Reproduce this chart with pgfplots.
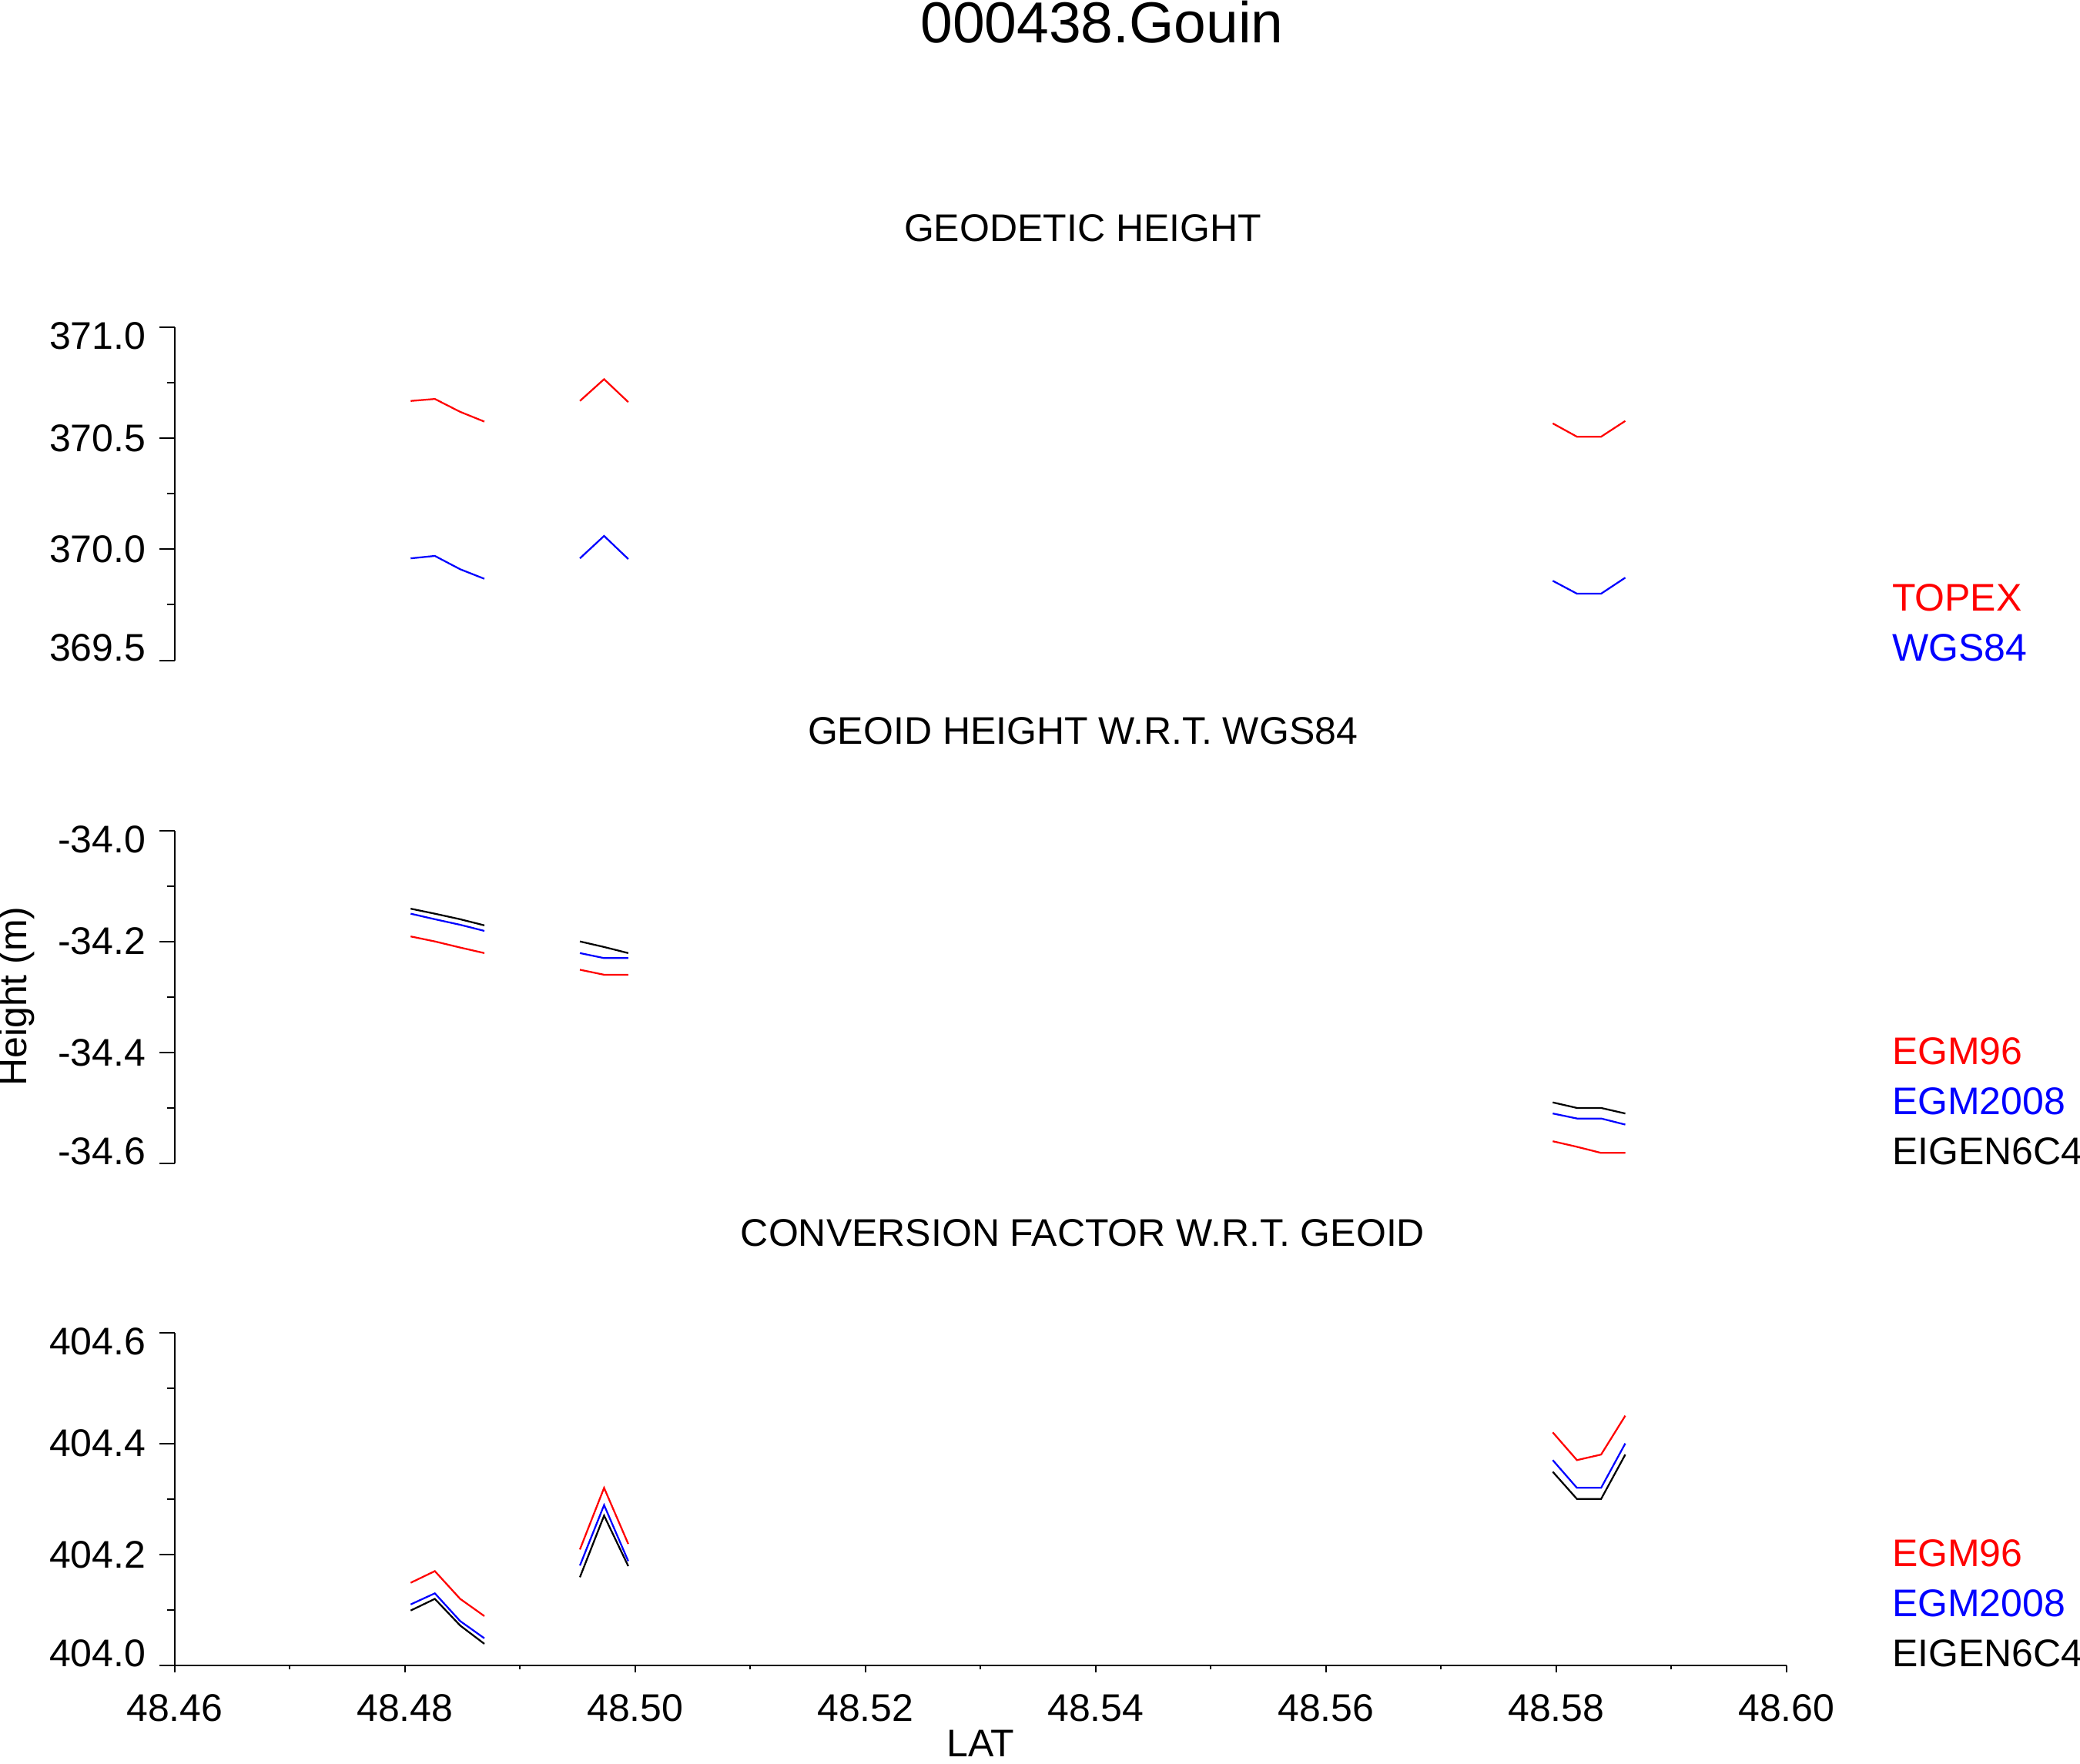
\documentclass[border=0pt]{standalone}
\usepackage{fontspec}
\setmainfont{Liberation Sans}
\usepackage{pgfplots}
\pgfplotsset{compat=1.18}
\newcommand\dn[1]{\raisebox{-2.3pt}[\height][\depth]{#1}}
\newcommand\up[1]{\raisebox{3.2pt}[\height][\depth]{#1}}
\tikzset{leg/.style={anchor=base west, inner sep=0pt, font=\fontsize{10}{12}\selectfont}}
\pgfplotsset{
 panel/.style={
  scale only axis, width=418.6pt, height=86.5pt,
  xmin=48.46, xmax=48.60,
  axis y line*=left,
  axis line style={-, line width=0.4pt, black},
  tick align=outside,
  major tick length=4pt, minor tick length=2pt,
  minor y tick num=1,
  tick style={line width=0.4pt, black},
  ticklabel style={font=\fontsize{10}{12}\selectfont},
  /pgf/number format/assume math mode=true,
  every axis plot/.append style={line width=0.45pt, mark=none},
  unbounded coords=jump,
  clip=false,
  title style={at={(axis description cs:0.5634,1)}, anchor=base, yshift=16.4pt, font=\fontsize{10}{12}\selectfont},
 },
 toppanel/.style={panel, axis x line=none, xtick=\empty},
}
\begin{document}
\begin{tikzpicture}
\path[use as bounding box] (0,0) rectangle (540.2pt,-458pt);
\node[anchor=base, inner sep=0pt, font=\fontsize{15}{18}\selectfont] at (286.2pt,-11pt) {000438.Gouin};
\node[rotate=90, anchor=base, inner sep=0pt, font=\fontsize{10}{12}\selectfont] at (6.8pt,-258.8pt) {Height (m)};

% Panel 1
\begin{axis}[toppanel, at={(45.36pt,-85pt)}, anchor=north west,
  ymin=369.5, ymax=371.0, ytick={369.5,370.0,370.5,371.0},
  yticklabels={\up{369.5},370.0,370.5,\dn{371.0}},
  title={GEODETIC HEIGHT}]
\addplot[red] coordinates {
 (48.4805,370.668) (48.4826,370.677) (48.4848,370.619) (48.4869,370.575)
 (48.4900,nan)
 (48.4952,370.668) (48.4973,370.766) (48.4994,370.663)
 (48.5400,nan)
 (48.5797,370.567) (48.5818,370.507) (48.5839,370.507) (48.5860,370.578)};
\addplot[blue] coordinates {
 (48.4805,369.959) (48.4826,369.970) (48.4848,369.910) (48.4869,369.867)
 (48.4900,nan)
 (48.4952,369.959) (48.4973,370.060) (48.4994,369.956)
 (48.5400,nan)
 (48.5797,369.858) (48.5818,369.800) (48.5839,369.800) (48.5860,369.872)};
\node[leg, red, yshift=12.8pt] at (axis description cs:1.0651,0) {TOPEX};
\node[leg, blue, yshift=-0.2pt] at (axis description cs:1.0651,0) {WGS84};
\end{axis}

% Panel 2
\begin{axis}[toppanel, at={(45.36pt,-215.7pt)}, anchor=north west,
  ymin=-34.6, ymax=-34.0, ytick={-34.6,-34.4,-34.2,-34.0},
  yticklabels={\up{-34.6},-34.4,-34.2,\dn{-34.0}},
  title={GEOID HEIGHT W.R.T. WGS84}]
\addplot[red] coordinates {
 (48.4805,-34.191) (48.4826,-34.200) (48.4848,-34.211) (48.4869,-34.221)
 (48.4900,nan)
 (48.4952,-34.251) (48.4973,-34.260) (48.4994,-34.260)
 (48.5400,nan)
 (48.5797,-34.560) (48.5818,-34.570) (48.5839,-34.581) (48.5860,-34.581)};
\addplot[blue] coordinates {
 (48.4805,-34.150) (48.4826,-34.160) (48.4848,-34.170) (48.4869,-34.181)
 (48.4900,nan)
 (48.4952,-34.221) (48.4973,-34.230) (48.4994,-34.230)
 (48.5400,nan)
 (48.5797,-34.510) (48.5818,-34.519) (48.5839,-34.519) (48.5860,-34.530)};
\addplot[black] coordinates {
 (48.4805,-34.141) (48.4826,-34.150) (48.4848,-34.160) (48.4869,-34.171)
 (48.4900,nan)
 (48.4952,-34.200) (48.4973,-34.210) (48.4994,-34.221)
 (48.5400,nan)
 (48.5797,-34.490) (48.5818,-34.500) (48.5839,-34.500) (48.5860,-34.510)};
\node[leg, red, yshift=25.8pt] at (axis description cs:1.0651,0) {EGM96};
\node[leg, blue, yshift=12.8pt] at (axis description cs:1.0651,0) {EGM2008};
\node[leg, black, yshift=-0.2pt] at (axis description cs:1.0651,0) {EIGEN6C4};
\end{axis}

% Panel 3
\begin{axis}[panel, at={(45.36pt,-346.1pt)}, anchor=north west,
  axis x line*=bottom,
  xtick={48.46,48.48,48.50,48.52,48.54,48.56,48.58,48.60},
  xticklabels={48.46,48.48,48.50,48.52,48.54,48.56,48.58,48.60},
  minor x tick num=1,
  x tick style={/pgfplots/major tick length=1.7pt, /pgfplots/minor tick length=1pt},
  xlabel={LAT},
  xlabel style={at={(axis description cs:0.5,0)}, anchor=base, inner sep=0pt, yshift=-23.6pt, font=\fontsize{10}{12}\selectfont},
  ymin=404.0, ymax=404.6, ytick={404.0,404.2,404.4,404.6},
  yticklabels={\up{404.0},404.2,404.4,\dn{404.6}},
  title={CONVERSION FACTOR W.R.T. GEOID}]
\addplot[red] coordinates {
 (48.4805,404.149) (48.4826,404.170) (48.4848,404.120) (48.4869,404.089)
 (48.4900,nan)
 (48.4952,404.209) (48.4973,404.320) (48.4994,404.219)
 (48.5400,nan)
 (48.5797,404.420) (48.5818,404.370) (48.5839,404.380) (48.5860,404.450)};
\addplot[blue] coordinates {
 (48.4805,404.110) (48.4826,404.130) (48.4848,404.080) (48.4869,404.049)
 (48.4900,nan)
 (48.4952,404.180) (48.4973,404.289) (48.4994,404.188)
 (48.5400,nan)
 (48.5797,404.370) (48.5818,404.320) (48.5839,404.320) (48.5860,404.400)};
\addplot[black] coordinates {
 (48.4805,404.099) (48.4826,404.120) (48.4848,404.072) (48.4869,404.039)
 (48.4900,nan)
 (48.4952,404.159) (48.4973,404.270) (48.4994,404.179)
 (48.5400,nan)
 (48.5797,404.349) (48.5818,404.300) (48.5839,404.300) (48.5860,404.380)};
\node[leg, red, yshift=25.8pt] at (axis description cs:1.0651,0) {EGM96};
\node[leg, blue, yshift=12.8pt] at (axis description cs:1.0651,0) {EGM2008};
\node[leg, black, yshift=-0.2pt] at (axis description cs:1.0651,0) {EIGEN6C4};
\end{axis}
\end{tikzpicture}
\end{document}
